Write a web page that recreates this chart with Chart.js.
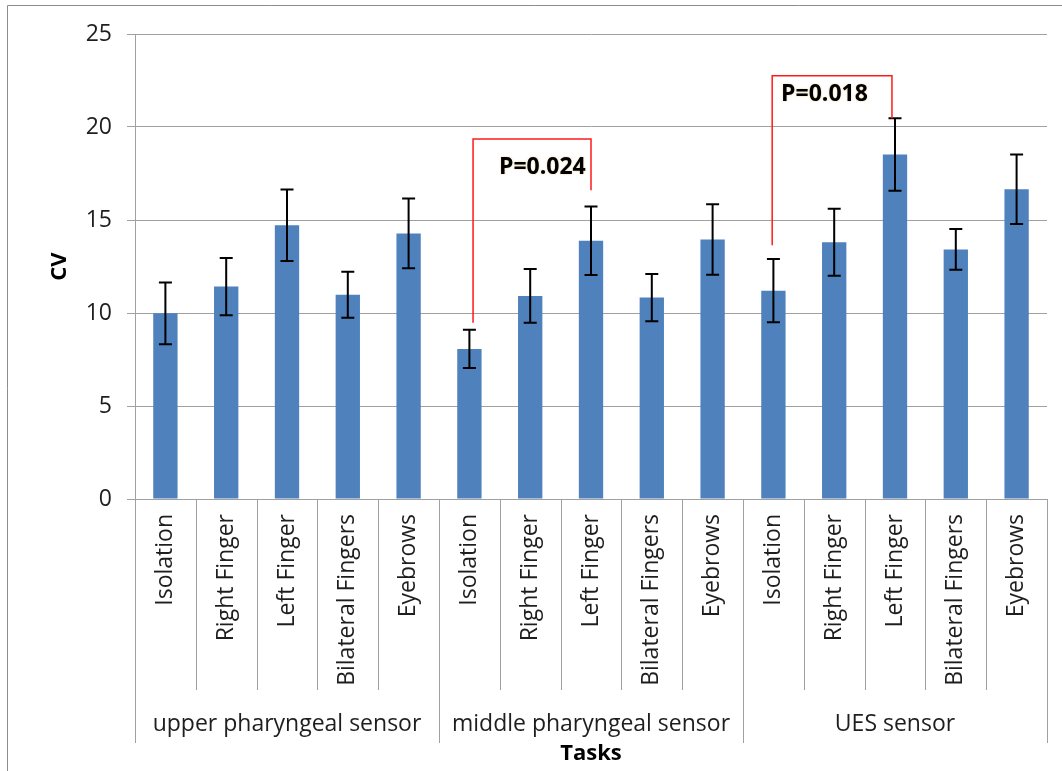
<!DOCTYPE html>
<html>
<head>
<meta charset="utf-8">
<title>CV by task and sensor</title>
<script src="https://cdn.jsdelivr.net/npm/chart.js@4.4.1/dist/chart.umd.min.js"></script>
<style>
  html, body { margin: 0; padding: 0; background: #ffffff; }
  #wrap { position: relative; width: 1062px; height: 771px; }
  canvas { display: block; }
</style>
</head>
<body>
<div id="wrap"><canvas id="cvChart" width="1062" height="771"></canvas></div>
<script>
// Sensor groups and the tasks recorded for each
const groups = ['upper pharyngeal sensor', 'middle pharyngeal sensor', 'UES sensor'];
const tasks = ['Isolation', 'Right Finger', 'Left Finger', 'Bilateral Fingers', 'Eyebrows'];

// Mean CV per task, per sensor
const upperCV  = [9.98, 11.42, 14.72, 10.98, 14.28];
const middleCV = [8.07, 10.92, 13.88, 10.83, 13.95];
const uesCV    = [11.20, 13.80, 18.52, 13.42, 16.65];

// Error bar half-widths (SD) per task, per sensor
const upperErr  = [1.66, 1.54, 1.92, 1.24, 1.87];
const middleErr = [1.03, 1.45, 1.84, 1.27, 1.90];
const uesErr    = [1.70, 1.80, 1.95, 1.10, 1.87];

// Y axis ticks
const yTicks = [0, 5, 10, 15, 20, 25];

// Significance brackets: category positions (0-based over all 15 bars) and CV levels
const bracketFrom    = [5.06, 9.98];
const bracketTo      = [7.0, 11.95];
const bracketTop     = [19.36, 22.76];
const bracketFromEnd = [9.47, 13.64];
const bracketToEnd   = [16.6, 20.46];
const bracketText    = ['P=0.024', 'P=0.018'];
const bracketTextX   = [6.2, 10.84];
const bracketTextY   = [17.83, 21.73];

const values = [].concat(upperCV, middleCV, uesCV);
const errors = [].concat(upperErr, middleErr, uesErr);
const taskLabels = [].concat(tasks, tasks, tasks);

const GRID = '#a0a0a0';
const FONT = "'Open Sans', 'DejaVu Sans', sans-serif";

// Error bars drawn on top of each bar
const errorBars = {
  id: 'errorBars',
  afterDatasetsDraw(chart) {
    const ctx = chart.ctx;
    const y = chart.scales.y;
    const meta = chart.getDatasetMeta(0);
    ctx.save();
    ctx.strokeStyle = '#000000';
    ctx.lineWidth = 2;
    meta.data.forEach((bar, i) => {
      const yt = y.getPixelForValue(values[i] + errors[i]);
      const yb = y.getPixelForValue(values[i] - errors[i]);
      const x = bar.x;
      const half = 6.5;
      ctx.beginPath();
      ctx.moveTo(x, yt); ctx.lineTo(x, yb);
      ctx.moveTo(x - half, yt); ctx.lineTo(x + half, yt);
      ctx.moveTo(x - half, yb); ctx.lineTo(x + half, yb);
      ctx.stroke();
    });
    ctx.restore();
  }
};

// Red comparison brackets with their p-values
const brackets = {
  id: 'brackets',
  afterDatasetsDraw(chart) {
    const ctx = chart.ctx;
    const x = chart.scales.x, y = chart.scales.y;
    ctx.save();
    for (let i = 0; i < bracketText.length; i++) {
      const x1 = x.getPixelForValue(bracketFrom[i]);
      const x2 = x.getPixelForValue(bracketTo[i]);
      const yt = y.getPixelForValue(bracketTop[i]);
      ctx.strokeStyle = '#ff1a1a';
      ctx.lineWidth = 1.5;
      ctx.beginPath();
      ctx.moveTo(x1, y.getPixelForValue(bracketFromEnd[i]));
      ctx.lineTo(x1, yt);
      ctx.lineTo(x2, yt);
      ctx.lineTo(x2, y.getPixelForValue(bracketToEnd[i]));
      ctx.stroke();

      ctx.font = "bold 23px " + FONT;
      ctx.textAlign = 'center';
      ctx.textBaseline = 'middle';
      ctx.shadowColor = 'rgba(210,160,60,0.55)';
      ctx.shadowBlur = 2;
      ctx.fillStyle = '#000000';
      ctx.fillText(bracketText[i], x.getPixelForValue(bracketTextX[i]), y.getPixelForValue(bracketTextY[i]));
      ctx.shadowBlur = 0;
      ctx.shadowColor = 'transparent';
    }
    ctx.restore();
  }
};

// Category separators under the axis, longer ones between sensor groups, plus the frame
const frame = {
  id: 'frame',
  afterDraw(chart) {
    const ctx = chart.ctx;
    const x = chart.scales.x;
    const area = chart.chartArea;
    const n = taskLabels.length;
    const step = (x.getPixelForValue(1) - x.getPixelForValue(0));
    ctx.save();
    ctx.strokeStyle = GRID;
    ctx.lineWidth = 1;
    for (let k = 0; k <= n; k++) {
      const px = Math.round(x.getPixelForValue(k) - step / 2) + 0.5;
      const isGroupEdge = (k % tasks.length === 0);
      const bottom = isGroupEdge ? area.bottom + 244 : area.bottom + 191;
      ctx.beginPath();
      ctx.moveTo(px, area.bottom);
      ctx.lineTo(px, bottom);
      ctx.stroke();
    }
    // outer frame (top and left edges)
    ctx.strokeStyle = '#8c8c8c';
    ctx.beginPath();
    ctx.moveTo(7.5, 771);
    ctx.lineTo(7.5, 5.5);
    ctx.lineTo(1062, 5.5);
    ctx.stroke();
    ctx.restore();
  }
};

new Chart(document.getElementById('cvChart'), {
  type: 'bar',
  data: {
    labels: taskLabels,
    datasets: [{
      label: 'CV',
      data: values,
      backgroundColor: '#4f81bd',
      borderWidth: 0,
      barPercentage: 0.4,
      categoryPercentage: 1.0,
      xAxisID: 'x',
      yAxisID: 'y'
    }]
  },
  options: {
    responsive: false,
    animation: false,
    devicePixelRatio: 1,
    layout: { padding: { top: 34, right: 15, left: 0, bottom: 0 } },
    plugins: {
      legend: { display: false },
      tooltip: { enabled: false }
    },
    scales: {
      y: {
        min: 0,
        max: 25,
        afterBuildTicks(scale) { scale.ticks = yTicks.map(v => ({ value: v })); },
        afterFit(scale) { scale.width = 135; },
        grid: { color: GRID, lineWidth: 1, tickLength: 8, drawTicks: true },
        border: { display: true, color: GRID, width: 1 },
        ticks: {
          padding: 15,
          color: '#1e1e1e',
          font: { family: FONT, size: 23 }
        },
        title: {
          display: true,
          text: 'CV',
          color: '#000000',
          font: { family: FONT, size: 22, weight: 'bold' },
          padding: { top: 47, bottom: 0 }
        }
      },
      x: {
        type: 'category',
        position: 'bottom',
        offset: true,
        afterFit(scale) { scale.height = 191; },
        grid: { display: false, drawOnChartArea: false, drawTicks: false },
        border: { display: true, color: GRID, width: 1 },
        ticks: {
          autoSkip: false,
          minRotation: 90,
          maxRotation: 90,
          padding: 15,
          color: '#1e1e1e',
          font: { family: FONT, size: 23 }
        }
      },
      x2: {
        type: 'category',
        position: 'bottom',
        labels: groups,
        offset: true,
        afterFit(scale) { scale.height = 81; },
        grid: { display: false, drawOnChartArea: false, drawTicks: false },
        border: { display: false },
        ticks: {
          autoSkip: false,
          maxRotation: 0,
          minRotation: 0,
          padding: 21,
          color: '#1e1e1e',
          font: { family: FONT, size: 23 }
        },
        title: {
          display: true,
          text: 'Tasks',
          color: '#000000',
          font: { family: FONT, size: 22, weight: 'bold' },
          padding: { top: 0, bottom: 4 }
        }
      }
    }
  },
  plugins: [errorBars, brackets, frame]
});
</script>
</body>
</html>
